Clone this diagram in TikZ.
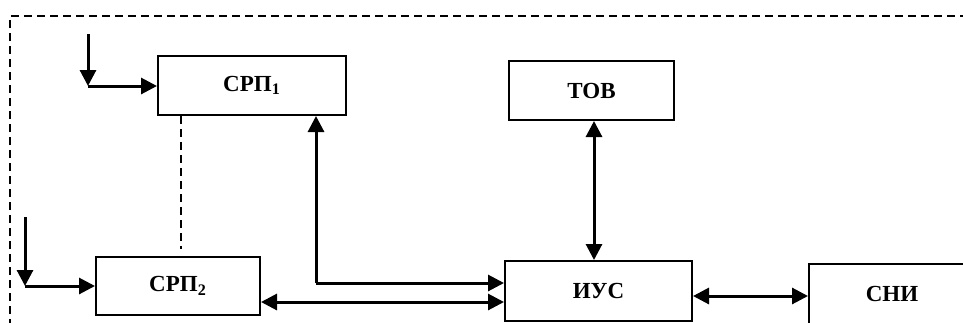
\documentclass[tikz,border=0pt]{standalone}
\usepackage{fontspec}
\setmainfont{Liberation Serif}
\usetikzlibrary{arrows.meta}
\begin{document}
\begin{tikzpicture}[x=0.5pt,y=-0.5pt]
	\tikzstyle{block}=[rectangle,draw=black,line width=1pt,inner sep=0pt,font=\fontsize{11.5}{14}\selectfont\bfseries]
	\tikzstyle{arr}=[line width=1.5pt,-{Triangle[length=8pt,width=8pt]}]
	\tikzstyle{darr}=[line width=1.5pt,{Triangle[length=8pt,width=8pt]}-{Triangle[length=8pt,width=8pt]}]
	\tikzstyle{link}=[line width=1pt,dash pattern=on 4pt off 2.5pt]
	\tikzstyle{frame}=[line width=1.1pt,dash pattern=on 4pt off 2.5pt]
	\useasboundingbox (0,0) rectangle (963,322);
	\clip (0,0) rectangle (963,322);
	% frame of the system
	\draw[frame] (10,340) |- (980,16);
	% blocks
	\node[block,minimum width=94pt,minimum height=29.5pt] (srp1) at (252,85.5) {СРП\textsubscript{1}};
	\node[block,minimum width=82pt,minimum height=29pt] (srp2) at (178,286) {СРП\textsubscript{2}};
	\node[block,minimum width=82.5pt,minimum height=29.5pt] (tov) at (591.5,90.5) {ТОВ};
	\node[block,minimum width=93.5pt,minimum height=30pt] (ius) at (598.5,291) {ИУС};
	\node[block,minimum width=83pt,minimum height=30pt] (sni) at (892,294) {СНИ};
	% inputs
	\coordinate (in1) at (88,34);
	\coordinate (in1c) at (88,86);
	\draw[arr] (in1) -- (in1c);
	\draw[arr] (in1c) -- (in1c -| srp1.west);
	\coordinate (in2) at (25,217);
	\coordinate (in2c) at (25,286);
	\draw[arr] (in2) -- (in2c);
	\draw[arr] (in2c) -- (srp2.west);
	% links
	\draw[link,shorten >=3.5pt] ([xshift=12pt]srp1.south west) -- ([xshift=12pt]srp1.south west |- srp2.north);
	\coordinate (bend) at (316,283);
	\draw[arr] (bend) -- (bend |- srp1.south);
	\draw[arr] (bend) -- (bend -| ius.west);
	\draw[darr] ([yshift=-8pt]srp2.east) -- ([yshift=-8pt]srp2.east -| ius.west);
	\draw[darr] ([xshift=1.25pt]tov.south) -- ([xshift=1.25pt]tov.south |- ius.north);
	\draw[darr] ([yshift=-2.5pt]ius.east) -- ([yshift=-2.5pt]ius.east -| sni.west);
\end{tikzpicture}
\end{document}
